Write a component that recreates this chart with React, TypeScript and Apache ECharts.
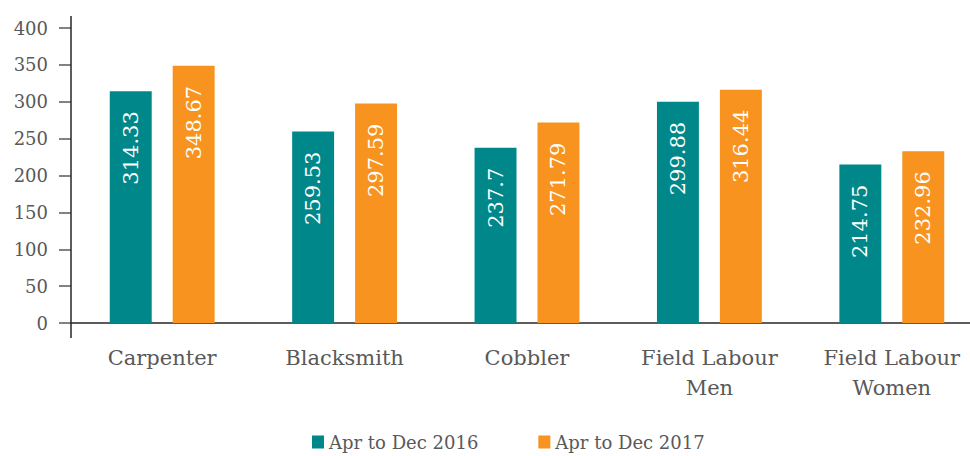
import React, { useEffect, useRef } from "react";
import * as echarts from "echarts";

const categories = ["Carpenter", "Blacksmith", "Cobbler", "Field Labour\nMen", "Field Labour\nWomen"];
const seriesNames = ["Apr to Dec 2016", "Apr to Dec 2017"];
const values2016 = [314.33, 259.53, 237.7, 299.88, 214.75];
const values2017 = [348.67, 297.59, 271.79, 316.44, 232.96];
const colors = ["#00878A", "#F7931E"];
const FONT = "DejaVu Serif";

export default function App() {
  const ref = useRef<HTMLDivElement>(null);
  useEffect(() => {
    if (!ref.current) return;
    const chart = echarts.init(ref.current, undefined, { renderer: "svg" });
    const label = {
      show: true,
      position: "insideTop",
      distance: 20,
      rotate: 90,
      align: "right",
      verticalAlign: "middle",
      color: "#ffffff",
      fontFamily: FONT,
      fontSize: 21,
    };
    chart.setOption({
      animation: false,
      textStyle: { fontFamily: FONT },
      grid: { left: 71, width: 912, top: 28, bottom: 133, outerBoundsMode: "none" },
      legend: {
        left: 312,
        top: 433,
        padding: 0,
        itemWidth: 12,
        itemHeight: 13,
        itemGap: 60,
        icon: "rect",
        textStyle: { fontFamily: FONT, fontSize: 18, color: "#595959" },
        data: seriesNames,
      },
      xAxis: {
        type: "category",
        data: categories,
        axisLine: { show: true, lineStyle: { color: "#262626", width: 1.5 } },
        axisTick: { show: false },
        axisLabel: {
          fontFamily: FONT,
          fontSize: 21,
          lineHeight: 30,
          color: "#595959",
          margin: 20,
          interval: 0,
        },
      },
      yAxis: {
        type: "value",
        min: 0,
        max: 400,
        interval: 50,
        axisLine: { show: false },
        axisTick: { show: true, length: 12, lineStyle: { color: "#595959", width: 1.5 } },
        splitLine: { show: false },
        axisLabel: { fontFamily: FONT, fontSize: 18, color: "#595959", margin: 23 },
      },
      graphic: [
        {
          type: "line",
          shape: { x1: 71, y1: 16, x2: 71, y2: 338 },
          style: { stroke: "#262626", lineWidth: 1.5 },
          z: 10,
        },
      ],
      series: [
        {
          name: seriesNames[0],
          type: "bar",
          data: values2016,
          barWidth: "23%",
          barGap: "50%",
          itemStyle: { color: colors[0] },
          label,
        },
        {
          name: seriesNames[1],
          type: "bar",
          data: values2017,
          barWidth: "23%",
          barGap: "50%",
          itemStyle: { color: colors[1] },
          label,
        },
      ],
    });
    return () => chart.dispose();
  }, []);
  return (
    <div
      ref={ref}
      style={{ position: "absolute", left: 0, top: 0, width: 970, height: 456 }}
    />
  );
}
